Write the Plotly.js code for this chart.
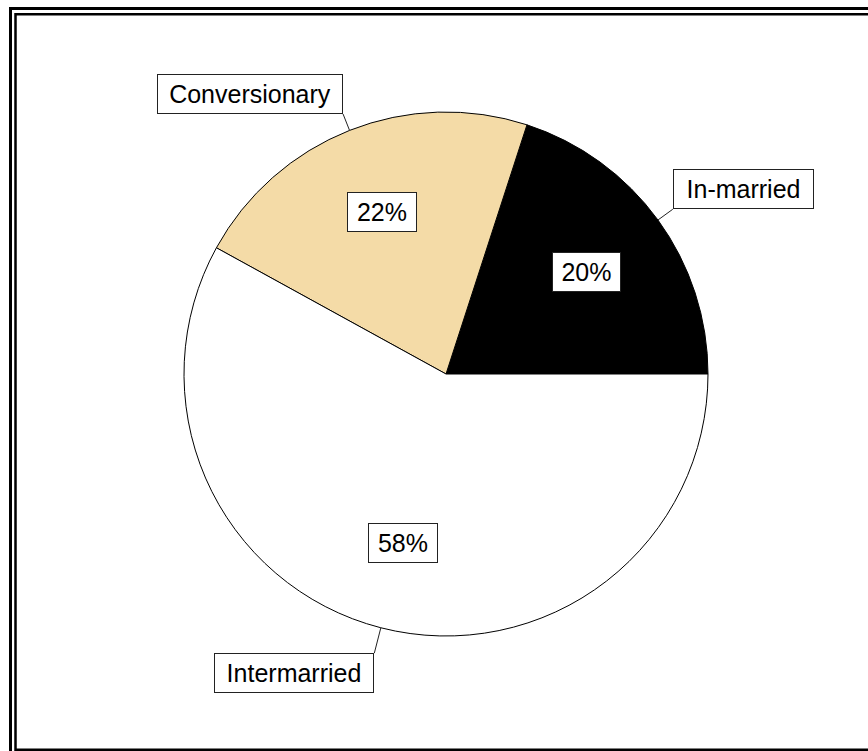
<!DOCTYPE html>
<html>
<head>
<meta charset="utf-8">
<script src="https://cdn.plot.ly/plotly-3.0.1.min.js"></script>
<style>html,body{margin:0;padding:0;background:#fff}#chart{width:868px;height:751px}</style>
</head>
<body>
<div id="chart"></div>
<script>
// ---- data ----
const labels = ['In-married', 'Conversionary', 'Intermarried'];
const values = [20, 22, 58];
const pctText = ['20%', '22%', '58%'];
const colors = ['#000000', '#F4DBA7', '#FFFFFF'];

// ---- layout / style constants ----
const W = 868, H = 751;
const CX = 446, CY = 374, R = 262;       // pie centre & radius (px)
const PCT_R = 0.665;                      // radial position of % boxes
const LEAD_R = [1.07, 1.067, 1.1];        // leader line outer end (fraction of R)
const LBL_XA = ['left', 'right', 'right'];
const LBL_YA = ['bottom', 'bottom', 'top'];
const LBL_W = [139, 184, 158];
const PCT_W = [67, 68, 68];
const BOX_H = 38;
const FONT = 'Liberation Sans, Arial, sans-serif';
const FS = 25;

const px2x = p => p / W;
const px2y = p => 1 - p / H;

const total = values.reduce((a, b) => a + b, 0);
const annotations = [];
const shapes = [];
let cum = 0;
values.forEach((v, i) => {
  const mid = 2 * Math.PI * (cum + v / 2) / total;
  cum += v;
  const c = Math.cos(mid), s = Math.sin(mid);
  // percentage box
  annotations.push({
    x: px2x(CX + PCT_R * R * c), y: px2y(CY - PCT_R * R * s),
    xref: 'paper', yref: 'paper', showarrow: false,
    text: pctText[i], font: {family: FONT, size: FS, color: '#000'},
    bgcolor: '#fff', bordercolor: '#222', borderwidth: 1, borderpad: 0,
    width: PCT_W[i], height: BOX_H, xanchor: 'center', yanchor: 'middle'
  });
  // leader line
  const ex = CX + LEAD_R[i] * R * c, ey = CY - LEAD_R[i] * R * s;
  shapes.push({
    type: 'line', xref: 'paper', yref: 'paper',
    x0: px2x(CX + R * c), y0: px2y(CY - R * s), x1: px2x(ex), y1: px2y(ey),
    line: {color: '#222', width: 1}
  });
  // category label box
  annotations.push({
    x: px2x(ex), y: px2y(ey), xref: 'paper', yref: 'paper', showarrow: false,
    text: labels[i], font: {family: FONT, size: FS, color: '#000'},
    bgcolor: '#fff', bordercolor: '#222', borderwidth: 1, borderpad: 0,
    width: LBL_W[i], height: BOX_H, xanchor: LBL_XA[i], yanchor: LBL_YA[i]
  });
});

// double frame
shapes.push({type: 'rect', xref: 'paper', yref: 'paper',
  x0: px2x(10.5), y0: px2y(8.5), x1: px2x(880), y1: px2y(765),
  line: {color: '#000', width: 3}});
shapes.push({type: 'rect', xref: 'paper', yref: 'paper',
  x0: px2x(15.5), y0: px2y(14.3), x1: px2x(874), y1: px2y(749.8),
  line: {color: '#000', width: 2.5}});

// Plotly's counterclockwise pies end the first slice at the rotation angle,
// so shift by the first slice's span to start it at 3 o'clock.
const rotation = 90 - 360 * values[0] / total;

const trace = {
  type: 'pie',
  labels: labels,
  values: values,
  sort: false,
  direction: 'counterclockwise',
  rotation: rotation,
  textinfo: 'none',
  hoverinfo: 'none',
  marker: {colors: colors, line: {color: '#000', width: 1}},
  domain: {x: [px2x(CX - R), px2x(CX + R)], y: [px2y(CY + R), px2y(CY - R)]}
};

Plotly.newPlot('chart', [trace], {
  width: W, height: H,
  margin: {l: 0, r: 0, t: 0, b: 0},
  paper_bgcolor: '#fff',
  showlegend: false,
  annotations: annotations,
  shapes: shapes
}, {displayModeBar: false, staticPlot: true});
</script>
</body>
</html>
